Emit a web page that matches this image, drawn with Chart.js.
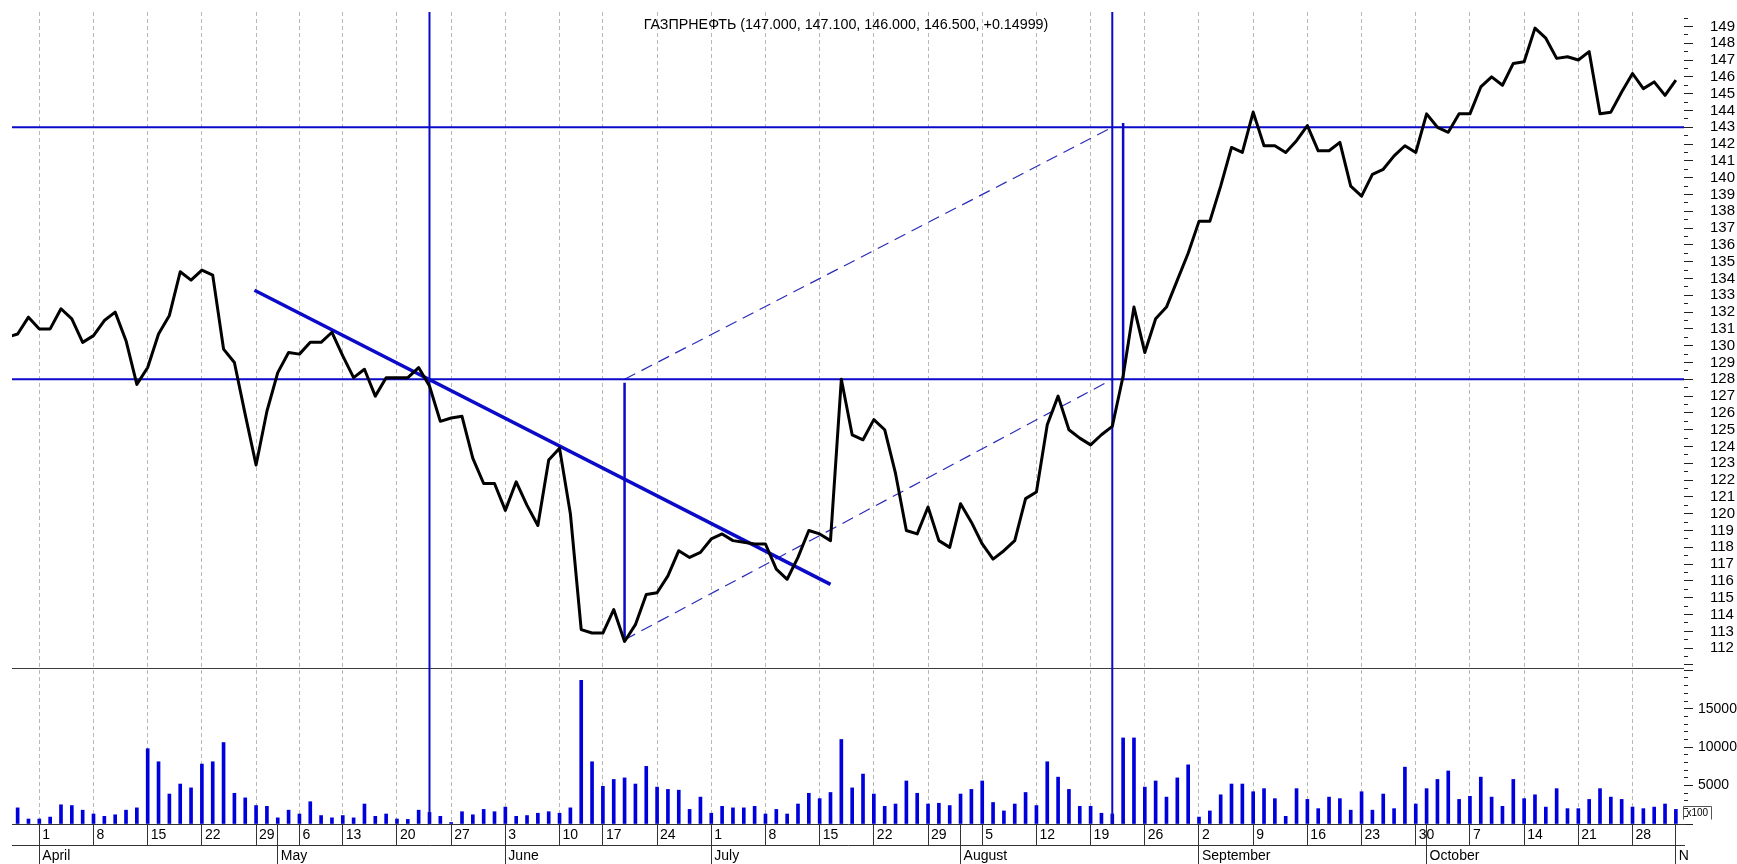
<!DOCTYPE html>
<html>
<head>
<meta charset="utf-8">
<title>ГАЗПРНЕФТЬ</title>
<script src="https://cdn.jsdelivr.net/npm/chart.js@4.4.1/dist/chart.umd.min.js"></script>
<style>
  html, body { margin: 0; padding: 0; background: #fff; }
  #wrap { width: 1737px; height: 864px; }
</style>
</head>
<body>
<div id="wrap"><canvas id="myChart" width="1737" height="864"></canvas></div>
<script>
// trading days of 2013, day of month for each month
const marDays = [27, 28, 29];
const aprDays = [1, 2, 3, 4, 5, 8, 9, 10, 11, 12, 15, 16, 17, 18, 19, 22, 23, 24, 25, 26, 29, 30];
const mayDays = [2, 3, 6, 7, 8, 10, 13, 14, 15, 16, 17, 20, 21, 22, 23, 24, 27, 28, 29, 30, 31];
const junDays = [3, 4, 5, 6, 7, 10, 11, 13, 14, 17, 18, 19, 20, 21, 24, 25, 26, 27, 28];
const julDays = [1, 2, 3, 4, 5, 8, 9, 10, 11, 12, 15, 16, 17, 18, 19, 22, 23, 24, 25, 26, 29, 30, 31];
const augDays = [1, 2, 5, 6, 7, 8, 9, 12, 13, 14, 15, 16, 19, 20, 21, 22, 23, 26, 27, 28, 29, 30];
const sepDays = [2, 3, 4, 5, 6, 9, 10, 11, 12, 13, 16, 17, 18, 19, 20, 23, 24, 25, 26, 27, 30];
const octDays = [1, 2, 3, 4, 7, 8, 9, 10, 11, 14, 15, 16, 17, 18, 21, 22, 23, 24, 25, 28, 29, 30, 31];
const novDays = [1];

// closing prices, one per trading day (Mar 27 .. Nov 1)
const closePrices = [
  130.5, 130.7, 131.7,
  131.0, 131.0, 132.2, 131.6, 130.2, 130.6, 131.5, 132.0, 130.3, 127.7, 128.7, 130.7, 131.8, 134.4, 133.9, 134.5, 134.2, 129.8, 129.0, 125.9, 122.9, 126.1,
  128.4, 129.6, 129.5, 130.2, 130.2, 130.8, 129.4, 128.1, 128.6, 127.0, 128.1, 128.1, 128.1, 128.7, 127.6, 125.5, 125.7, 125.8, 123.3, 121.8, 121.8,
  120.2, 121.9, 120.5, 119.3, 123.2, 123.9, 120.0, 113.1, 112.9, 112.9, 114.3, 112.4, 113.4, 115.2, 115.3, 116.3, 117.8, 117.4, 117.7,
  118.5, 118.8, 118.4, 118.3, 118.2, 118.2, 116.7, 116.1, 117.4, 119.0, 118.8, 118.4, 128.0, 124.7, 124.4, 125.6, 125.0, 122.4, 119.0, 118.8, 120.4, 118.4, 118.0,
  120.6, 119.5, 118.2, 117.3, 117.8, 118.4, 120.9, 121.3, 125.3, 127.0, 125.0, 124.5, 124.1, 124.7, 125.2, 128.2, 132.3, 129.6, 131.6, 132.3, 133.9, 135.5,
  137.4, 137.4, 139.5, 141.8, 141.5, 143.9, 141.9, 141.9, 141.5, 142.2, 143.1, 141.6, 141.6, 142.1, 139.5, 138.9, 140.2, 140.5, 141.3, 141.9, 141.5,
  143.8, 143.0, 142.7, 143.8, 143.8, 145.4, 146.0, 145.5, 146.8, 146.9, 148.9, 148.3, 147.1, 147.2, 147.0, 147.5, 143.8, 143.9, 145.1, 146.2, 145.3, 145.7, 144.9,
  145.8
];

// volume, in hundreds
const volumes = [
  null, 2100, 650,
  650, 900, 2500, 2400, 1800, 1300, 1000, 1200, 1800, 2100, 9800, 8100, 3900, 5200, 4700, 7800, 8100, 10600, 4000, 3400, 2400, 2300,
  800, 1800, 1300, 2900, 1100, 800, 1100, 800, 2600, 1000, 1300, 650, 600, 1800, 1500, 1000, 200, 1600, 1200, 1900, 1600,
  2200, 1000, 1100, 1400, 1600, 1400, 2100, 18700, 8100, 4900, 5800, 6000, 5200, 7500, 4800, 4500, 4400, 1900, 3500,
  1400, 2300, 2100, 2100, 2300, 1300, 1900, 1300, 2600, 4000, 3300, 4100, 11000, 4700, 6500, 3900, 2300, 2600, 5600, 4000, 2600, 2700, 2400,
  3900, 4500, 5600, 2800, 1700, 2600, 4100, 2400, 8100, 6100, 4500, 2300, 2300, 1400, 1300, 11200, 11200, 4800, 5600, 3500, 6000, 7700,
  900, 1700, 3800, 5200, 5200, 4200, 4600, 3300, 1000, 4600, 3200, 2000, 3500, 3300, 1800, 4200, 1800, 3900, 2000, 7400, 2600,
  4600, 5800, 6900, 3200, 3600, 6100, 3500, 2300, 5800, 3300, 3800, 2200, 4600, 2000, 2000, 3200, 4600, 3500, 3200, 2200, 2000, 2200, 2600,
  1900
];

// axis labels
const weekTicks = ['04-01', '04-08', '04-15', '04-22', '04-29', '05-06', '05-13', '05-20', '05-27',
  '06-03', '06-10', '06-17', '06-24', '07-01', '07-08', '07-15', '07-22', '07-29', '08-05', '08-12',
  '08-19', '08-26', '09-02', '09-09', '09-16', '09-23', '09-30', '10-07', '10-14', '10-21', '10-28'];
const monthStarts = ['04-01', '05-02', '06-03', '07-01', '08-01', '09-02', '10-01', '11-01'];
const monthNames = ['April', 'May', 'June', 'July', 'August', 'September', 'October', 'N'];
const priceLabelRange = [112, 149];
const volumeLabels = [5000, 10000, 15000];
const chartTitle = 'ГАЗПРНЕФТЬ (147.000, 147.100, 146.000, 146.500, +0.14999)';

// drawn lines (x = trading-day index, y = price)
const levels = [143, 128];
const markerDates = ['05-23', '08-21'];
const trendLine = [[22.85, 133.3], [76.0, 115.8]];
const projectionLow = [[57, 112.5], [102, 128]];
const projectionHigh = [[57, 128], [102, 143]];
const measureBars = [[[57, 127.8], [57, 112.4]], [[103, 128], [103, 143.25]]];

const dates = [];
[['03', marDays], ['04', aprDays], ['05', mayDays], ['06', junDays], ['07', julDays],
 ['08', augDays], ['09', sepDays], ['10', octDays], ['11', novDays]].forEach(([m, days]) => {
  days.forEach(d => dates.push(m + '-' + String(d).padStart(2, '0')));
});

const weekIdx = weekTicks.map(d => dates.indexOf(d));
const monthIdx = monthStarts.map(d => dates.indexOf(d));
const dayAxisIdx = Array.from(new Set(weekIdx.concat(monthIdx))).sort((a, b) => a - b);

const xMin = 0.48, xMax = 154.75;
const priceMin = 110.82, priceMax = 149.86;
const volMax = 20300;

const FONT = "'Liberation Sans', Arial, sans-serif";
const BLUE = '#0a0ac8';

function segment(points, yAxisID, style) {
  return Object.assign({
    type: 'line',
    data: points.map(p => ({x: p[0], y: p[1]})),
    xAxisID: 'x',
    yAxisID: yAxisID,
    pointRadius: 0,
    tension: 0,
    fill: false,
    borderColor: BLUE,
    borderWidth: 2,
    order: 1
  }, style || {});
}

const drawn = [];
levels.forEach(lv => drawn.push(segment([[xMin, lv], [xMax, lv]], 'y')));
markerDates.forEach(d => {
  const i = dates.indexOf(d);
  drawn.push(segment([[i, priceMax], [i, priceMin]], 'y'));
  drawn.push(segment([[i, volMax], [i, 0]], 'yv'));
});
drawn.push(segment(trendLine, 'y', {borderWidth: 3.5}));
drawn.push(segment(projectionLow, 'y', {borderWidth: 1.2, borderDash: [12, 7], borderColor: '#2a2ab8'}));
drawn.push(segment(projectionHigh, 'y', {borderWidth: 1.2, borderDash: [12, 7], borderColor: '#2a2ab8'}));
measureBars.forEach(b => drawn.push(segment(b, 'y', {borderWidth: 2.5})));

// fixed tick sets for the two value axes
function stepTicks(from, to, step) {
  const out = [];
  for (let v = from; v <= to + 1e-9; v += step) out.push({value: Math.round(v * 10) / 10});
  return out;
}

const overlay = {
  id: 'overlay',
  beforeDatasetsDraw(chart) {
    const {ctx, chartArea, scales} = chart;
    ctx.save();
    ctx.strokeStyle = '#3c3c3c';
    ctx.lineWidth = 1;
    const sy = Math.round(scales.y.bottom) + 0.5;
    ctx.beginPath();
    ctx.moveTo(chartArea.left, sy);
    ctx.lineTo(chartArea.right, sy);
    ctx.stroke();
    ctx.restore();
  },
  afterDraw(chart) {
    const {ctx, chartArea, scales} = chart;
    ctx.save();
    ctx.fillStyle = '#000';
    ctx.font = '14.3px ' + FONT;
    ctx.textAlign = 'center';
    ctx.textBaseline = 'middle';
    ctx.fillText(chartTitle, (chartArea.left + chartArea.right) / 2 - 2, chartArea.top + 13);
    // "x100" unit box
    const bx = Math.round(chartArea.right) - 0.5, by = Math.round(scales.yv.bottom) - 17.5;
    ctx.strokeStyle = '#555';
    ctx.lineWidth = 1;
    ctx.beginPath();
    ctx.moveTo(bx, by + 13); ctx.lineTo(bx, by); ctx.lineTo(bx + 28, by); ctx.lineTo(bx + 28, by + 13);
    ctx.stroke();
    ctx.font = '10px ' + FONT;
    ctx.textAlign = 'left';
    ctx.fillText('x100', bx + 3, by + 7);
    ctx.restore();
  }
};

const tickFont = {family: FONT, size: 14};

function fitX(h) {
  return s => { s.height = h; s.paddingLeft = 0; s.paddingRight = 0; };
}
function fitY(s) {
  s.width = 53; s.paddingTop = 0; s.paddingBottom = 0;
}

function initChart() {
  const ctx = document.getElementById('myChart').getContext('2d');
  new Chart(ctx, {
    type: 'line',
    data: {
      datasets: [
        {
          type: 'line',
          label: 'ГАЗПРНЕФТЬ',
          data: closePrices.map((v, i) => ({x: i, y: v})),
          xAxisID: 'x',
          yAxisID: 'y',
          borderColor: '#000',
          borderWidth: 3,
          borderJoinStyle: 'round',
          pointRadius: 0,
          tension: 0,
          order: 0
        },
        ...drawn,
        {
          type: 'bar',
          label: 'Volume',
          data: volumes.map((v, i) => ({x: i, y: v})),
          xAxisID: 'x',
          yAxisID: 'yv',
          backgroundColor: '#0000dd',
          barThickness: 3,
          order: 5
        }
      ]
    },
    options: {
      responsive: false,
      animation: false,
      events: [],
      layout: {autoPadding: false, padding: {top: 12, left: 12, right: 0, bottom: 0}},
      plugins: {legend: {display: false}, tooltip: {enabled: false}},
      scales: {
        x: {
          type: 'linear', position: 'bottom', min: xMin, max: xMax, weight: 0, offset: false,
          afterBuildTicks: s => { s.ticks = dayAxisIdx.map(v => ({value: v})); },
          afterFit: fitX(21),
          grid: {
            offset: false,
            color: c => (c.tick && weekIdx.includes(c.tick.value)) ? '#b8b8b8' : 'rgba(0,0,0,0)',
            lineWidth: 1, tickLength: 21, tickColor: '#333', tickWidth: 1
          },
          border: {display: true, color: '#333', width: 1, dash: [4, 3]},
          ticks: {
            autoSkip: false, maxRotation: 0, minRotation: 0, align: 'start', labelOffset: 3, padding: -18,
            color: '#000', font: tickFont,
            callback: v => weekIdx.includes(v) ? String(Number(dates[v].slice(3))) : ''
          }
        },
        xm: {
          type: 'linear', position: 'bottom', min: xMin, max: xMax, weight: 1, offset: false,
          afterBuildTicks: s => { s.ticks = monthIdx.map(v => ({value: v})); },
          afterFit: fitX(19),
          grid: {offset: false, drawOnChartArea: false, tickLength: 19, tickColor: '#333', color: '#333'},
          border: {display: true, color: '#333', width: 1},
          ticks: {
            autoSkip: false, maxRotation: 0, minRotation: 0, align: 'start', labelOffset: 3, padding: -16.4,
            color: '#000', font: tickFont,
            callback: v => monthNames[monthIdx.indexOf(v)]
          }
        },
        y: {
          type: 'linear', position: 'right', stack: 'panels', stackWeight: 656,
          min: priceMin, max: priceMax,
          afterBuildTicks: s => { s.ticks = stepTicks(111, 149.5, 0.5); },
          afterFit: fitY,
          grid: {
            drawOnChartArea: false, tickLength: 9, tickColor: '#222', tickWidth: 1,
            tickBorderDash: c => (c.tick && Number.isInteger(c.tick.value)) ? [] : [4, 20]
          },
          border: {display: false},
          ticks: {
            autoSkip: false, padding: 17, color: '#000', font: {family: FONT, size: 15},
            callback: v => (Number.isInteger(v) && v >= priceLabelRange[0] && v <= priceLabelRange[1]) ? String(v) : ''
          }
        },
        yv: {
          type: 'linear', position: 'right', stack: 'panels', stackWeight: 156,
          min: 0, max: volMax,
          afterBuildTicks: s => { s.ticks = stepTicks(0, 20000, 1000); },
          afterFit: fitY,
          grid: {
            drawOnChartArea: false, tickLength: 9, tickColor: '#222', tickWidth: 1,
            tickBorderDash: c => (c.tick && c.tick.value % 5000 === 0) ? [] : [4, 20]
          },
          border: {display: false},
          ticks: {
            autoSkip: false, padding: 5, color: '#000', font: tickFont,
            callback: v => volumeLabels.includes(v) ? String(v) : ''
          }
        }
      }
    },
    plugins: [overlay]
  });
}

document.addEventListener('DOMContentLoaded', initChart);
</script>
</body>
</html>
